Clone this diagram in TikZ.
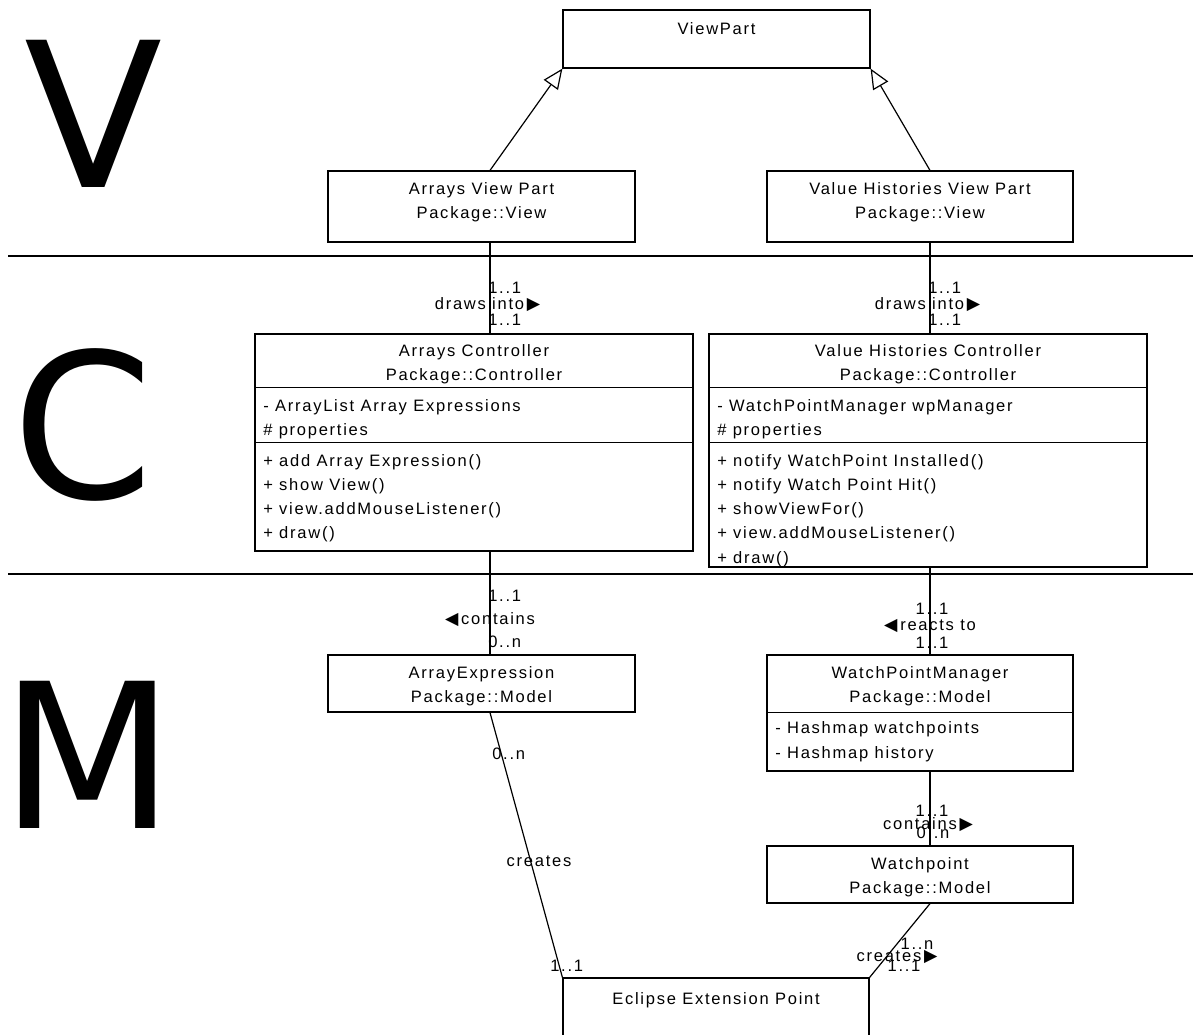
\documentclass[tikz,border=0pt]{standalone}
\usepackage{fontspec}
\setmainfont[LetterSpace=10.5]{Liberation Sans}
\newfontfamily\bigfont{DejaVu Sans}
\newfontfamily\symfont{DejaVu Sans}
\usetikzlibrary{arrows.meta,fit}

\newcommand{\rtri}{{\symfont\fontsize{13}{13}\selectfont ▶}}
\newcommand{\ltri}{{\symfont\fontsize{13}{13}\selectfont ◀}}

\begin{document}
\begin{tikzpicture}[x=0.75pt,y=-0.75pt,font=\fontsize{12.4}{18.2}\selectfont,
  cls/.style={draw,inner sep=0pt,line width=0.9pt},
  txt/.style={inner sep=0pt,anchor=base},
  ltxt/.style={inner sep=0pt,anchor=base west},
  link/.style={line width=0.9pt},
  gen/.style={link,-{Triangle[open,fill=white,length=15pt,width=13pt]}},
  layer/.style={line width=1.5pt},
  big/.style={inner sep=0pt,anchor=base west,font=\bigfont\fontsize{151.5}{151.5}\selectfont}]
  \useasboundingbox (0,0) rectangle (1197,1035);

  % layers
  \node[big] (lv) at (24,187) {V};
  \node[big] (lc) at (12,498) {C};
  \node[big] (lm) at (0,828) {M};
  \draw[layer] (8,256) -- (1193,256);
  \draw[layer] (8,574) -- (1193,574);

  % classes
  \node[cls,fit={(563,10) (870,68)}] (vp) {};
  \node[txt] (vp-t) at (vp.north |- 0,34) {ViewPart};

  \node[cls,fit={(328,171) (635,242)}] (avp) {};
  \foreach \t [count=\i] in {Arrays View Part,Package::View}
    \node[txt] (avp-t\i) at (481.5,170+24*\i) {\t};
  \node[cls,fit={(767,171) (1073,242)}] (vhvp) {};
  \foreach \t [count=\i] in {Value Histories View Part,Package::View}
    \node[txt] (vhvp-t\i) at (920,170+24*\i) {\t};

  \node[cls,fit={(255,334) (693,551)}] (ac) {};
  \draw (ac.west |- 0,387) -- (ac.east |- 0,387);
  \draw (ac.west |- 0,442) -- (ac.east |- 0,442);
  \foreach \t [count=\i] in {Arrays Controller,Package::Controller}
    \node[txt] (ac-t\i) at (474,331.5+24.5*\i) {\t};
  \foreach \t [count=\i] in {- ArrayList Array Expressions,\# properties}
    \node[ltxt] (ac-a\i) at (263,386.7+24.3*\i) {\t};
  \foreach \t [count=\i] in {+ add Array Expression(),+ show View(),+ view.addMouseListener(),+ draw()}
    \node[ltxt] (ac-m\i) at (263,441.7+24.3*\i) {\t};

  \node[cls,fit={(709,334) (1147,567)}] (vhc) {};
  \draw (vhc.west |- 0,387) -- (vhc.east |- 0,387);
  \draw (vhc.west |- 0,442) -- (vhc.east |- 0,442);
  \foreach \t [count=\i] in {Value Histories Controller,Package::Controller}
    \node[txt] (vhc-t\i) at (928,331.5+24.5*\i) {\t};
  \foreach \t [count=\i] in {- WatchPointManager wpManager,\# properties}
    \node[ltxt] (vhc-a\i) at (717,386.7+24.3*\i) {\t};
  \foreach \t [count=\i] in {+ notify WatchPoint Installed(),+ notify Watch Point Hit(),+ showViewFor(),+ view.addMouseListener(),+ draw()}
    \node[ltxt] (vhc-m\i) at (717,441.7+24.3*\i) {\t};

  \node[cls,fit={(328,655) (635,712)}] (ae) {};
  \foreach \t [count=\i] in {ArrayExpression,Package::Model}
    \node[txt] (ae-t\i) at (481.5,653.5+24.5*\i) {\t};

  \node[cls,fit={(767,655) (1073,771)}] (wpm) {};
  \draw (wpm.west |- 0,712) -- (wpm.east |- 0,712);
  \foreach \t [count=\i] in {WatchPointManager,Package::Model}
    \node[txt] (wpm-t\i) at (920,653.5+24.5*\i) {\t};
  \foreach \t [count=\i] in {- Hashmap watchpoints,- Hashmap history}
    \node[ltxt] (wpm-a\i) at (775,708+25*\i) {\t};

  \node[cls,fit={(767,846) (1073,903)}] (wp) {};
  \foreach \t [count=\i] in {Watchpoint,Package::Model}
    \node[txt] (wp-t\i) at (920,844.5+24.5*\i) {\t};

  \node[cls,fit={(563,978) (869,1050)}] (eep) {};
  \node[txt] (eep-t) at (eep.north |- 0,1004) {Eclipse Extension Point};

  % links
  \coordinate (l) at (490,0);
  \coordinate (r) at (930,0);
  \draw[gen] (avp.north -| l) -- (vp.south west);
  \draw[gen] (vhvp.north -| r) -- (vp.south east);
  \draw[link] (avp.south -| l) -- (ac.north -| l);
  \draw[link] (vhvp.south -| r) -- (vhc.north -| r);
  \draw[link] (ac.south -| l) -- (ae.north -| l);
  \draw[link] (vhc.south -| r) -- (wpm.north -| r);
  \draw[link] (wpm.south -| r) -- (wp.north -| r);
  \draw[link] (ae.south -| l) -- (eep.north west);
  \draw[link] (wp.south -| r) -- (eep.north east);

  % labels
  \node[ltxt] (m1a) at (488,293) {1..1};
  \node[txt] (n1) at (487.5,309) {draws into\,\rtri};
  \node[ltxt] (m1b) at (488,325) {1..1};
  \node[ltxt] (m2a) at (928,293) {1..1};
  \node[txt] (n2) at (927.5,309) {draws into\,\rtri};
  \node[ltxt] (m2b) at (928,325) {1..1};
  \node[ltxt] (m3a) at (488,601) {1..1};
  \node[txt] (n3) at (490,624) {\ltri\,contains};
  \node[ltxt] (m3b) at (488,647) {0..n};
  \node[txt] (m4a) at (932,614) {1..1};
  \node[txt] (n4) at (930,630) {\ltri\,reacts to};
  \node[txt] (m4b) at (932,648) {1..1};
  \node[txt] (m5a) at (932,816) {1..1};
  \node[txt] (n5) at (928,829) {contains\,\rtri};
  \node[txt] (m5b) at (933,838) {0..n};
  \node[ltxt] (m6a) at (492,759) {0..n};
  \node[txt] (n6) at (539,866) {creates};
  \node[ltxt] (m6b) at (550,971) {1..1};
  \node[txt] (m7a) at (917,949) {1..n};
  \node[txt] (n7) at (897,961) {creates\,\rtri};
  \node[txt] (m7b) at (904,971) {1..1};
\end{tikzpicture}
\end{document}
